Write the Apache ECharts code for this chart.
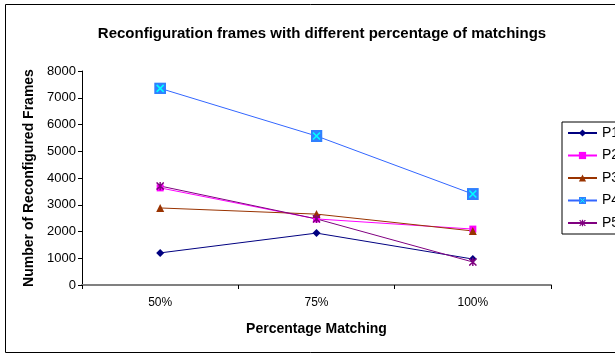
<!DOCTYPE html>
<html><head><meta charset="utf-8">
<script src="https://cdn.jsdelivr.net/npm/echarts@6/dist/echarts.min.js"></script>
<style>html,body{margin:0;padding:0;background:#fff}#c{width:615px;height:356px}</style>
</head><body><div id="c"></div>
<script>
const categories = ['50%', '75%', '100%'];
const P1 = [1200, 1940, 970];
const P2 = [3630, 2470, 2090];
const P3 = [2880, 2650, 2020];
const P4 = [7350, 5570, 3400];
const P5 = [3700, 2470, 860];
const yTicks = {min: 0, max: 8000, interval: 1000};

const svg = s => 'image://data:image/svg+xml;charset=utf-8,' + encodeURIComponent(s);
const p4sym = svg('<svg xmlns="http://www.w3.org/2000/svg" width="12" height="12"><rect x="0" y="0" width="12" height="12" fill="#2f80ff"/><path d="M2.5 2.5L9.5 9.5M9.5 2.5L2.5 9.5" stroke="#00ffff" stroke-width="1.6"/></svg>');
const p5sym = svg('<svg xmlns="http://www.w3.org/2000/svg" width="10" height="10"><path d="M1 1L9 9M9 1L1 9M5 0L5 10" stroke="#800080" stroke-width="1.6"/></svg>');

const font = 'Liberation Sans, Arial, sans-serif';
function mk(name, data, color, symbol, size) {
  return {name, type: 'line', data, symbol, symbolSize: size,
    lineStyle: {color, width: 1}, itemStyle: {color}, z: 3};
}
const chart = echarts.init(document.getElementById('c'));
chart.setOption({
  animation: false,
  title: {text: 'Reconfiguration frames with different percentage of matchings', left: 317, top: 21, textAlign: 'center',
    textStyle: {fontFamily: font, fontSize: 15, fontWeight: 'bold', color: '#000'}},
  grid: {left: 82, right: 64, top: 71, bottom: 71},
  legend: {orient: 'vertical', left: 562, top: 122, itemWidth: 29, itemHeight: 9, itemGap: 8.5,
    padding: [4, 8, 4, 5], borderColor: '#000', borderWidth: 1,
    textStyle: {fontFamily: font, fontSize: 14, color: '#000'},
    data: ['P1','P2','P3','P4','P5']},
  xAxis: {type: 'category', data: categories, boundaryGap: true,
    name: 'Percentage Matching', nameLocation: 'middle', nameGap: 37,
    nameTextStyle: {fontFamily: font, fontSize: 14, fontWeight: 'bold', color: '#000'},
    axisLine: {lineStyle: {color: '#808080', width: 2}},
    axisTick: {show: true, alignWithLabel: false, length: 4, lineStyle: {color: '#000'}},
    axisLabel: {fontFamily: font, fontSize: 12, color: '#000', margin: 12}},
  yAxis: {type: 'value', min: yTicks.min, max: yTicks.max, interval: yTicks.interval,
    name: 'Number of Reconfigured Frames', nameLocation: 'middle', nameGap: 41,
    nameTextStyle: {fontFamily: font, fontSize: 14, fontWeight: 'bold', color: '#000'},
    axisLine: {show: true, lineStyle: {color: '#000'}},
    axisTick: {show: true, length: 4, lineStyle: {color: '#000'}},
    splitLine: {show: false},
    axisLabel: {fontFamily: font, fontSize: 13, color: '#000', margin: 6, formatter: v => String(v)}},
  graphic: [{type: 'rect', shape: {x: 5.5, y: 4.5, width: 640, height: 348}, style: {fill: 'none', stroke: '#000', lineWidth: 1}, silent: true}],
  series: [
    mk('P1', P1, '#000080', 'diamond', 8),
    mk('P2', P2, '#ff00ff', 'rect', 7),
    mk('P3', P3, '#993300', 'triangle', 8),
    mk('P4', P4, '#3366ff', p4sym, 12),
    mk('P5', P5, '#800080', p5sym, 9)
  ]
});
</script></body></html>
